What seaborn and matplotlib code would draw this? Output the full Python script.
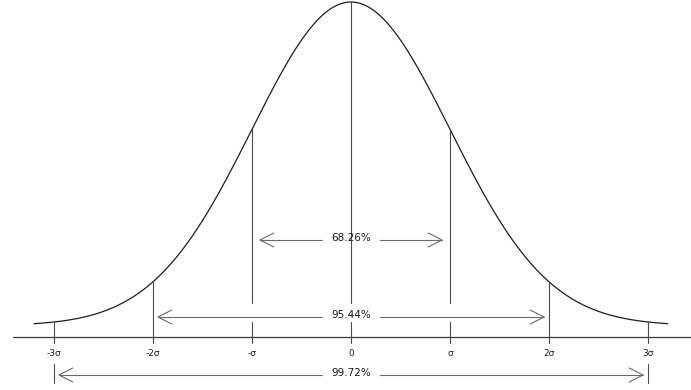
import numpy as np
import pandas as pd
import matplotlib
matplotlib.use("Agg")
import matplotlib.pyplot as plt
import seaborn as sns

# ---- data ----
sigma_positions = [-3, -2, -1, 0, 1, 2, 3]
tick_labels = ["-3σ", "-2σ", "-σ", "0", "σ", "2σ", "3σ"]
interval_k = [1, 2, 3]
interval_labels = ["68.26%", "95.44%", "99.72%"]
interval_heights = [97, 20, -38]          # height of each arrow (pixel-like units)
curve_offset = 11.4                        # curve asymptote above the axis line
curve_peak = 323.6                         # curve height scale
curve_range = [-3.2, 3.2]                  # drawn extent of the curve in σ

sns.set_style("white")
plt.rcParams["font.family"] = ["DejaVu Sans"]

fig = plt.figure(figsize=(6.91, 3.90), dpi=100)
ax = fig.add_axes([0, 0, 1, 1])
ax.set_xlim(-351 / 99, 340 / 99)
ax.set_ylim(-53, 337)
ax.axis("off")


def curve(z):
    return curve_offset + curve_peak * np.exp(-np.asarray(z) ** 2 / 2)


z = np.linspace(curve_range[0], curve_range[1], 600)
df = pd.DataFrame({"z": z, "y": curve(z)})
sns.lineplot(data=df, x="z", y="y", ax=ax, color="#1e1e1e", lw=0.9)

# axis line
ax.plot([-338 / 99, 340 / 99], [0, 0], color="#3a3a3a", lw=0.9)

# vertical lines
line_col = "#4a4a4a"
for s in sigma_positions:
    top = float(curve(s))
    if abs(s) <= 1:
        ax.plot([s, s], [top, 34], color=line_col, lw=0.8)
        ax.plot([s, s], [15, -6], color=line_col, lw=0.8)
    else:
        ax.plot([s, s], [top, -6], color=line_col, lw=0.8)

# tick labels
for s, lab in zip(sigma_positions, tick_labels):
    ax.text(s, -17, lab, ha="center", va="center", fontsize=6.5, color="#222222")

# arrows
arr_col = "#6a6a6a"
head_len = 0.14
head_w = 7
gap = 0.29
tip_inset = {1: 0.08, 2: 0.05, 3: 0.05}
for k, lab, h in zip(interval_k, interval_labels, interval_heights):
    ins = tip_inset[k]
    for sgn in (-1, 1):
        tip = sgn * (k - ins)
        ax.plot([sgn * gap, tip], [h, h], color=arr_col, lw=0.8)
        ax.plot([tip - sgn * head_len, tip, tip - sgn * head_len],
                [h + head_w, h, h - head_w], color=arr_col, lw=0.8)
    ax.text(0, h + 2, lab, ha="center", va="center", fontsize=7.5, color="#1a1a1a")

# bars at ±3σ for the bottom arrow
for sgn in (-1, 1):
    ax.plot([sgn * 3, sgn * 3], [-27, -46], color=line_col, lw=0.8)

fig.savefig("out.png", dpi=100)
